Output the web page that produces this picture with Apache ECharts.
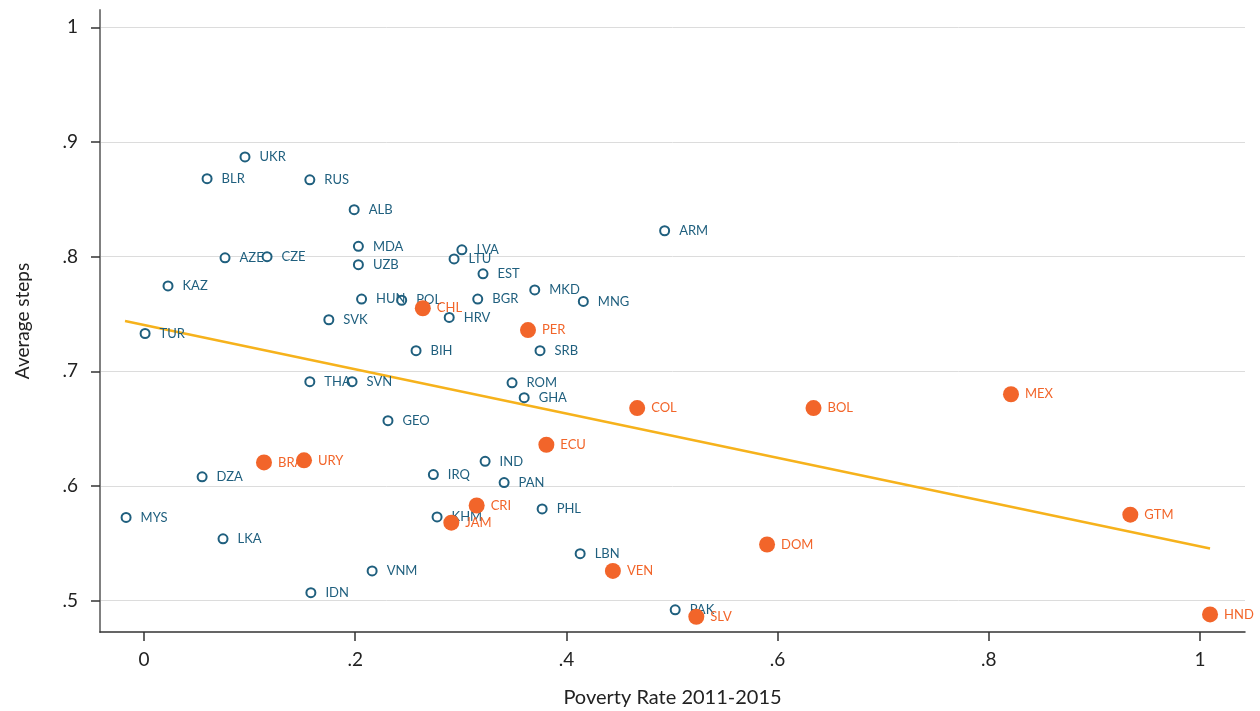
<!DOCTYPE html>
<html>
<head>
<meta charset="utf-8">
<script src="https://cdn.jsdelivr.net/npm/echarts@6/dist/echarts.min.js"></script>
<style>
  html, body { margin: 0; padding: 0; background: #fff; }
  #chart { width: 1260px; height: 711px; }
</style>
</head>
<body>
<div id="chart"></div>
<script>
// Countries outside Latin America: [poverty rate, average steps, code]
const otherCountries = [
  [0.0956, 0.887, 'UKR'], [0.0597, 0.868, 'BLR'], [0.157, 0.867, 'RUS'],
  [0.199, 0.841, 'ALB'], [0.203, 0.809, 'MDA'], [0.0767, 0.799, 'AZE'],
  [0.1165, 0.800, 'CZE'], [0.203, 0.793, 'UZB'], [0.301, 0.806, 'LVA'],
  [0.2936, 0.798, 'LTU'], [0.321, 0.785, 'EST'], [0.0227, 0.7745, 'KAZ'],
  [0.370, 0.771, 'MKD'], [0.206, 0.763, 'HUN'], [0.244, 0.762, 'POL'],
  [0.316, 0.763, 'BGR'], [0.416, 0.761, 'MNG'], [0.289, 0.747, 'HRV'],
  [0.175, 0.745, 'SVK'], [0.001, 0.733, 'TUR'], [0.2576, 0.718, 'BIH'],
  [0.375, 0.718, 'SRB'], [0.157, 0.691, 'THA'], [0.197, 0.691, 'SVN'],
  [0.3485, 0.690, 'ROM'], [0.360, 0.677, 'GHA'], [0.231, 0.657, 'GEO'],
  [0.493, 0.8226, 'ARM'], [0.323, 0.6215, 'IND'], [0.274, 0.610, 'IRQ'],
  [0.055, 0.608, 'DZA'], [0.341, 0.603, 'PAN'], [-0.017, 0.5726, 'MYS'],
  [0.377, 0.580, 'PHL'], [0.2775, 0.573, 'KHM'], [0.0748, 0.554, 'LKA'],
  [0.413, 0.541, 'LBN'], [0.216, 0.526, 'VNM'], [0.158, 0.507, 'IDN'],
  [0.503, 0.492, 'PAK']
];

// Latin American countries: [poverty rate, average steps, code]
const latamCountries = [
  [0.264, 0.755, 'CHL'], [0.3636, 0.736, 'PER'], [0.467, 0.668, 'COL'],
  [0.634, 0.668, 'BOL'], [0.821, 0.680, 'MEX'], [0.381, 0.636, 'ECU'],
  [0.1136, 0.6206, 'BRA'], [0.1515, 0.6224, 'URY'], [0.315, 0.583, 'CRI'],
  [0.291, 0.568, 'JAM'], [0.934, 0.575, 'GTM'], [0.590, 0.549, 'DOM'],
  [0.444, 0.526, 'VEN'], [0.523, 0.486, 'SLV'], [1.0095, 0.488, 'HND']
];

// Fitted line endpoints
const fitLine = [[-0.018, 0.7439], [1.0095, 0.5455]];

const xTicks = [0, 0.2, 0.4, 0.6, 0.8, 1];
const yTicks = [0.5, 0.6, 0.7, 0.8, 0.9, 1];

const TEAL = '#1f5f7e';
const ORANGE = '#f2652a';
const GOLD = '#f6b21c';

const fmt = v => {
  const r = Math.round(v * 10) / 10;
  if (r === 0) return '0';
  if (r === 1) return '1';
  return String(r).replace(/^0/, '');
};

const chart = echarts.init(document.getElementById('chart'), null, { renderer: 'canvas' });

const labelBase = {
  show: true,
  position: 'right',
  formatter: p => p.data[2],
  fontFamily: 'Lato',
  fontSize: 13,
  letterSpacing: 1.1
};

chart.setOption({
  animation: false,
  grid: { left: 100, right: 15, top: 10, bottom: 79, outerBoundsMode: 'none', containLabel: false },
  xAxis: {
    type: 'value',
    min: -0.0417,
    max: 1.0426,
    name: 'Poverty Rate 2011-2015',
    nameLocation: 'middle',
    nameGap: 56,
    nameTextStyle: { fontFamily: 'Lato', fontSize: 20, color: '#222' },
    axisLine: { show: true, onZero: false, lineStyle: { color: '#333', width: 1.5 } },
    axisTick: { show: true, length: 9, customValues: xTicks, lineStyle: { color: '#333', width: 1.5 } },
    axisLabel: { customValues: xTicks, formatter: fmt, fontFamily: 'Lato', fontSize: 19, color: '#222', margin: 18 },
    splitLine: { show: false }
  },
  yAxis: {
    type: 'value',
    min: 0.4727,
    max: 1.0151,
    name: 'Average steps',
    nameLocation: 'middle',
    nameGap: 68,
    nameRotate: 90,
    nameTextStyle: { fontFamily: 'Lato', fontSize: 19, color: '#222' },
    axisLine: { show: true, onZero: false, lineStyle: { color: '#808080', width: 2 } },
    axisTick: { show: true, length: 9, customValues: yTicks, lineStyle: { color: '#333', width: 1.5 } },
    axisLabel: { customValues: yTicks, formatter: fmt, fontFamily: 'Lato', fontSize: 19, color: '#222', margin: 22 },
    splitLine: { show: true, lineStyle: { color: '#dcdcdc', width: 1 } }
  },
  series: [
    {
      type: 'line',
      data: fitLine,
      symbol: 'none',
      lineStyle: { color: GOLD, width: 2.5 },
      z: 1
    },
    {
      type: 'scatter',
      data: otherCountries,
      symbol: 'emptyCircle',
      symbolSize: 9,
      itemStyle: { color: TEAL, borderColor: TEAL, borderWidth: 2.5, opacity: 1 },
      label: Object.assign({}, labelBase, { color: TEAL, distance: 9 }),
      z: 2
    },
    {
      type: 'scatter',
      data: latamCountries,
      symbolSize: 16,
      itemStyle: { color: ORANGE, opacity: 1 },
      label: Object.assign({}, labelBase, { color: ORANGE, distance: 6 }),
      z: 3
    }
  ]
});
</script>
</body>
</html>
